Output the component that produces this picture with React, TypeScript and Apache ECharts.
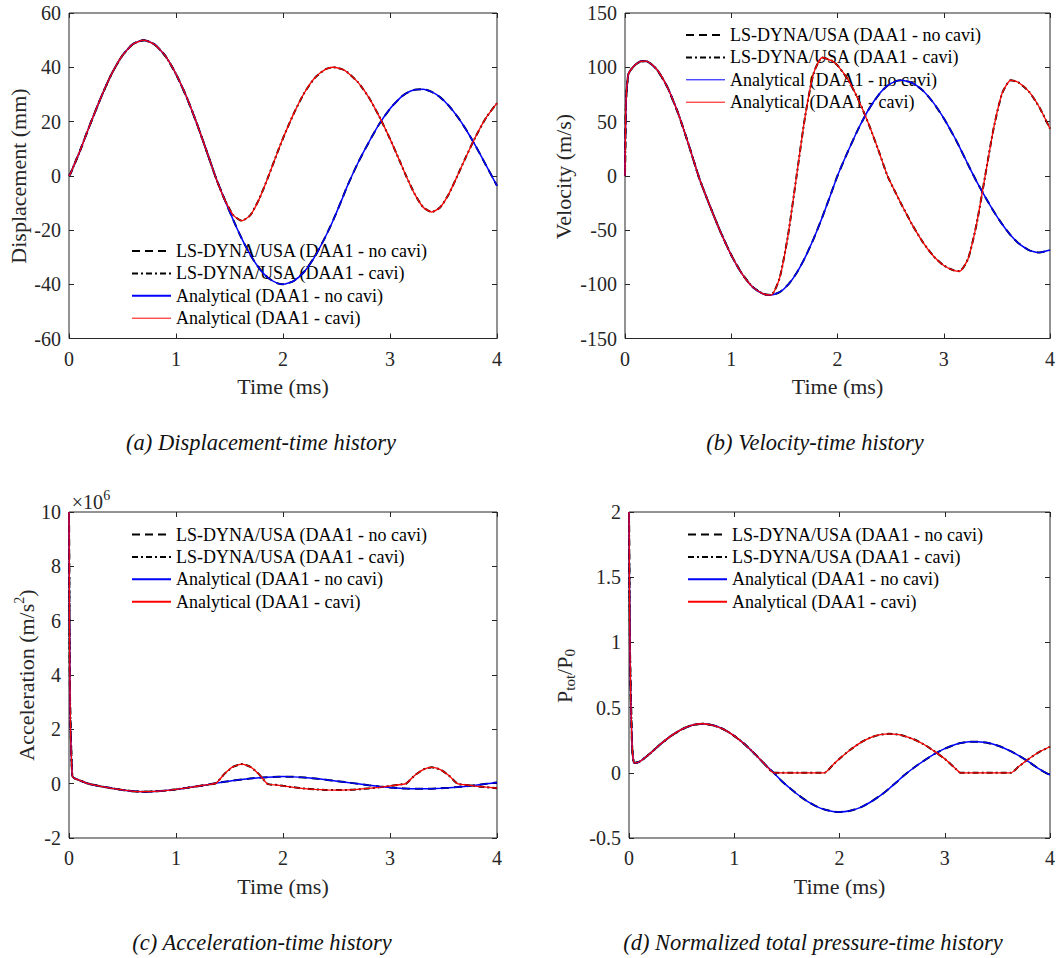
import React, { useEffect, useRef } from "react";
import * as echarts from "echarts";

// Sample times (ms), shared by every history
const time = [
  0, 0.01, 0.03, 0.05, 0.1, 0.15, 0.2, 0.3, 0.4, 0.5, 0.6, 0.7, 0.8, 0.9, 1.0, 1.1, 1.2, 1.3,
  1.375, 1.455, 1.535, 1.615, 1.695, 1.775, 1.856, 1.95, 2.0, 2.1, 2.2, 2.3, 2.4, 2.47, 2.55,
  2.6, 2.7, 2.8, 2.9, 3.0, 3.1, 3.15, 3.23, 3.31, 3.39, 3.47, 3.55, 3.63, 3.7, 3.8, 3.9, 4.0,
];

// Displacement (mm)
const dispNoCavi = [
  0, 0.5, 2.3, 4.2, 8.9, 14.1, 19.2, 29.0, 37.7, 44.4, 48.6, 50.0, 48.4, 44.2, 37.5, 28.9, 18.7, 7.5,
  -1.0, -8.8, -16.3, -23.2, -29.2, -34.0, -37.5, -39.7, -40.0, -38.8, -35.3, -29.6, -22.2, -16.3, -8.8,
  -3.9, 4.7, 12.2, 19.1, 24.7, 28.9, 30.4, 31.7, 31.9, 30.9, 28.9, 25.8, 21.8, 17.7, 11.0, 3.7, -3.7,
];
const dispCavi = [
  0, 0.5, 2.3, 4.2, 8.9, 14.1, 19.2, 29.0, 37.7, 44.4, 48.6, 50.0, 48.4, 44.2, 37.5, 28.9, 18.7, 7.5,
  -1.0, -8.8, -14.5, -16.6, -14.5, -8.8, -1.0, 8.8, 13.8, 22.9, 30.6, 36.2, 39.3, 40.0, 39.3,
  38.2, 34.5, 29.0, 21.8, 13.6, 4.6, 0, -6.7, -11.6, -13.4, -11.6, -6.7, 0, 6.1, 14.4, 21.5, 26.8,
];

// Velocity (m/s)
const velNoCavi = [
  0, 70, 93, 97, 102.5, 105.5, 105.6, 97.9, 81.4, 57.6, 28.4, -2.6, -28.1, -52.0, -73.1, -90.2, -102.4, -108.9,
  -110, -107.3, -100.4, -89.7, -75.3, -58.1, -38.4, -13.5, 0, 22.8, 44.0, 62.2, 76.2, 83.0, 87.2,
  88.0, 85.7, 78.8, 67.6, 53.0, 35.7, 26.1, 10.1, -5.4, -19.5, -32.8, -44.7, -54.9, -61.9, -68.5, -70.8, -68.5,
];
const velCavi = [
  0, 70, 93, 97, 102.5, 105.5, 105.6, 97.9, 81.4, 57.6, 28.4, -2.6, -28.1, -52.0, -73.1, -90.2, -102.4, -108.9,
  -110, -94.4, -54.5, 0, 54.5, 94.4, 109, 105.9, 101.7, 88.4, 69.4, 46.0, 19.4, 0, -16.2,
  -26.0, -44.6, -60.7, -73.7, -82.7, -87.4, -88, -76.2, -44, 0, 44, 76.2, 88, 86.2, 77.8, 63.1, 43.3,
];

// Acceleration (x10^6 m/s^2)
const accelNoCavi = [
  10, 3.0, 0.3, 0.2, 0.12, 0.04, -0.02, -0.1, -0.17, -0.23, -0.28, -0.295, -0.285, -0.255, -0.21, -0.155, -0.095, -0.035,
  0.02, 0.07, 0.115, 0.155, 0.19, 0.22, 0.24, 0.255, 0.26, 0.25, 0.225, 0.19, 0.145, 0.11, 0.07,
  0.045, -0.005, -0.055, -0.1, -0.14, -0.17, -0.18, -0.19, -0.19, -0.185, -0.17, -0.15, -0.125, -0.1, -0.055, -0.005, 0.045,
];
const accelCavi = [
  10, 3.0, 0.3, 0.2, 0.12, 0.04, -0.02, -0.1, -0.17, -0.23, -0.28, -0.295, -0.285, -0.255, -0.21, -0.155, -0.095, -0.035,
  0.02, 0.37, 0.625, 0.72, 0.62, 0.35, -0.01, -0.05, -0.08, -0.135, -0.18, -0.21, -0.23, -0.235, -0.235,
  -0.23, -0.21, -0.175, -0.135, -0.085, -0.03, 0, 0.3, 0.52, 0.6, 0.52, 0.3, 0, -0.04, -0.09, -0.13, -0.165,
];

// Normalized total pressure Ptot/P0
const presNoCavi = [
  2.0, 0.9, 0.2, 0.075, 0.085, 0.115, 0.148, 0.22, 0.283, 0.333, 0.365, 0.376, 0.364, 0.333, 0.283, 0.218, 0.141, 0.057,
  0, -0.066, -0.122, -0.174, -0.219, -0.255, -0.281, -0.298, -0.3, -0.291, -0.265, -0.222, -0.167, -0.122, -0.066,
  -0.029, 0.035, 0.092, 0.143, 0.185, 0.217, 0.228, 0.238, 0.239, 0.232, 0.217, 0.194, 0.164, 0.133, 0.083, 0.028, -0.018,
];
const presCavi = [
  2.0, 0.9, 0.2, 0.075, 0.085, 0.115, 0.148, 0.22, 0.283, 0.333, 0.365, 0.376, 0.364, 0.333, 0.283, 0.218, 0.141, 0.057,
  0, 0, 0, 0, 0, 0, 0, 0.071, 0.108, 0.175, 0.231, 0.272, 0.294, 0.299, 0.294,
  0.286, 0.259, 0.219, 0.166, 0.107, 0.034, 0, 0, 0, 0, 0, 0, 0, 0.046, 0.108, 0.161, 0.2,
];

const legendLabels = [
  "LS-DYNA/USA (DAA1 - no cavi)",
  "LS-DYNA/USA (DAA1 - cavi)",
  "Analytical (DAA1 - no cavi)",
  "Analytical (DAA1 - cavi)",
];

const SERIF = '"Liberation Serif", "Times New Roman", Times, serif';
const INK = "#262626";
const BLUE = "#0000ff";
const RED = "#ff0000";
const DASH = [8, 5];
const DASH_DOT = [6, 3, 2, 3];

type Panel = {
  left: number;
  top: number;
  width: number;
  height: number;
  yMin: number;
  yMax: number;
  yStep: number;
  noCavi: number[];
  cavi: number[];
  legendX: number;
  legendY: number;
  legendWidths: number[];
  caption: string;
  captionX: number;
  captionY: number;
};

const panels: Panel[] = [
  {
    left: 69, top: 13, width: 428, height: 325.5, yMin: -60, yMax: 60, yStep: 20,
    noCavi: dispNoCavi, cavi: dispCavi, legendX: 132, legendY: 251, legendWidths: [2, 2, 2, 1],
    caption: "(a) Displacement-time history", captionX: 261, captionY: 442,
  },
  {
    left: 625, top: 13, width: 425, height: 325.5, yMin: -150, yMax: 150, yStep: 50,
    noCavi: velNoCavi, cavi: velCavi, legendX: 686, legendY: 35, legendWidths: [2, 2, 1, 1],
    caption: "(b) Velocity-time history", captionX: 815, captionY: 442,
  },
  {
    left: 69, top: 512, width: 428, height: 326, yMin: -2, yMax: 10, yStep: 2,
    noCavi: accelNoCavi, cavi: accelCavi, legendX: 132, legendY: 534.5, legendWidths: [2, 2, 2, 2],
    caption: "(c) Acceleration-time history", captionX: 262, captionY: 942,
  },
  {
    left: 629, top: 512, width: 421, height: 326, yMin: -0.5, yMax: 2, yStep: 0.5,
    noCavi: presNoCavi, cavi: presCavi, legendX: 688, legendY: 534.5, legendWidths: [2, 2, 2, 2],
    caption: "(d) Normalized total pressure-time history", captionX: 813, captionY: 942,
  },
];

const pairs = (values: number[]) => time.map((t, k) => [t, values[k]]);

function txt(x: number, y: number, text: string, size: number, extra: any = {}) {
  return {
    type: "text",
    x,
    y,
    silent: true,
    style: {
      text,
      fontSize: size,
      fontFamily: SERIF,
      fill: INK,
      align: "left",
      verticalAlign: "middle",
      ...extra,
    },
  };
}

function buildOption() {
  const grids: any[] = [];
  const xAxes: any[] = [];
  const yAxes: any[] = [];
  const topAxes: any[] = [];
  const rightAxes: any[] = [];
  const series: any[] = [];
  const graphics: any[] = [];

  const tick = { show: true, inside: true, length: 5, lineStyle: { color: INK, width: 1 } };
  const noLine = { show: false, onZero: false };

  panels.forEach((p, i) => {
    grids.push({
      left: p.left,
      top: p.top,
      width: p.width,
      height: p.height,
      show: true,
      borderColor: INK,
      borderWidth: 1,
      backgroundColor: "transparent",
    });
    xAxes.push({
      gridIndex: i,
      type: "value",
      position: "bottom",
      min: 0,
      max: 4,
      interval: 1,
      axisLine: noLine,
      axisTick: tick,
      splitLine: { show: false },
      axisLabel: {
        color: INK, fontFamily: SERIF, fontSize: 20, margin: 10,
        showMinLabel: true, showMaxLabel: true,
      },
      name: "Time (ms)",
      nameLocation: "middle",
      nameGap: 37,
      nameTextStyle: { color: INK, fontFamily: SERIF, fontSize: 22 },
    });
    topAxes.push({
      gridIndex: i,
      type: "value",
      position: "top",
      min: 0,
      max: 4,
      interval: 1,
      axisLine: noLine,
      axisTick: tick,
      axisLabel: { show: false },
      splitLine: { show: false },
    });
    yAxes.push({
      gridIndex: i,
      type: "value",
      position: "left",
      min: p.yMin,
      max: p.yMax,
      interval: p.yStep,
      axisLine: noLine,
      axisTick: tick,
      splitLine: { show: false },
      axisLabel: {
        color: INK, fontFamily: SERIF, fontSize: 20, margin: 8,
        showMinLabel: true, showMaxLabel: true,
      },
    });
    rightAxes.push({
      gridIndex: i,
      type: "value",
      position: "right",
      min: p.yMin,
      max: p.yMax,
      interval: p.yStep,
      axisLine: noLine,
      axisTick: tick,
      axisLabel: { show: false },
      splitLine: { show: false },
    });

    const base = {
      type: "line",
      xAxisIndex: i,
      yAxisIndex: i,
      showSymbol: false,
      symbol: "none",
      smooth: 0.2,
      silent: true,
    };
    series.push(
      { ...base, name: legendLabels[0], data: pairs(p.noCavi), lineStyle: { color: "#000", width: 2, type: DASH }, z: 2 },
      { ...base, name: legendLabels[1], data: pairs(p.cavi), lineStyle: { color: "#000", width: 2, type: DASH_DOT }, z: 3 },
      { ...base, name: legendLabels[2], data: pairs(p.noCavi), lineStyle: { color: BLUE, width: 1.5 }, z: 4 },
      { ...base, name: legendLabels[3], data: pairs(p.cavi), lineStyle: { color: RED, width: 1.3 }, z: 5 }
    );

    // Legend: line samples with labels, no frame
    const strokes = ["#000", "#000", BLUE, RED];
    const dashes: any[] = [DASH, DASH_DOT, null, null];
    legendLabels.forEach((label, k) => {
      const y = p.legendY + k * 22.4;
      graphics.push({
        type: "line",
        silent: true,
        shape: { x1: p.legendX, y1: y, x2: p.legendX + 39, y2: y },
        style: { stroke: strokes[k], lineWidth: p.legendWidths[k], lineDash: dashes[k] },
      });
      graphics.push(txt(p.legendX + 44, y, label, 18, { fill: "#000" }));
    });

    graphics.push(
      txt(p.captionX, p.captionY, p.caption, 22.5, { align: "center", fontStyle: "italic", fill: "#111" })
    );
  });

  // Y-axis titles, rotated to read bottom-to-top
  graphics.push({
    type: "group", x: 18, y: 176, rotation: Math.PI / 2, silent: true,
    children: [txt(0, 0, "Displacement (mm)", 22, { align: "center" })],
  });
  graphics.push({
    type: "group", x: 563, y: 176.5, rotation: Math.PI / 2, silent: true,
    children: [txt(0, 0, "Velocity (m/s)", 22, { align: "center" })],
  });
  graphics.push({
    type: "group", x: 26, y: 675, rotation: Math.PI / 2, silent: true,
    children: [
      txt(-85.7, 0, "Acceleration (m/s", 22),
      txt(71.3, -7, "2", 14),
      txt(78.3, 0, ")", 22),
    ],
  });
  graphics.push({
    type: "group", x: 564, y: 676, rotation: Math.PI / 2, silent: true,
    children: [
      txt(-26.9, 0, "P", 22),
      txt(-14.7, 6, "tot", 15),
      txt(1.1, 0, "/", 22),
      txt(7.2, 0, "P", 22),
      txt(19.4, 6, "0", 15),
    ],
  });

  // Exponent above the acceleration axis
  graphics.push(txt(71.7, 502, "\u00d710", 20));
  graphics.push(txt(103.2, 495, "6", 14));

  return {
    animation: false,
    backgroundColor: "#ffffff",
    grid: grids,
    xAxis: [...xAxes, ...topAxes],
    yAxis: [...yAxes, ...rightAxes],
    series,
    graphic: { elements: graphics },
  };
}

export default function App() {
  const ref = useRef<HTMLDivElement>(null);

  useEffect(() => {
    if (!ref.current) return;
    const chart = echarts.init(ref.current, null, { renderer: "svg" });
    chart.setOption(buildOption() as any);
    return () => chart.dispose();
  }, []);

  return (
    <div
      ref={ref}
      style={{ position: "absolute", left: 0, top: 0, width: 1059, height: 958, background: "#fff" }}
    />
  );
}
